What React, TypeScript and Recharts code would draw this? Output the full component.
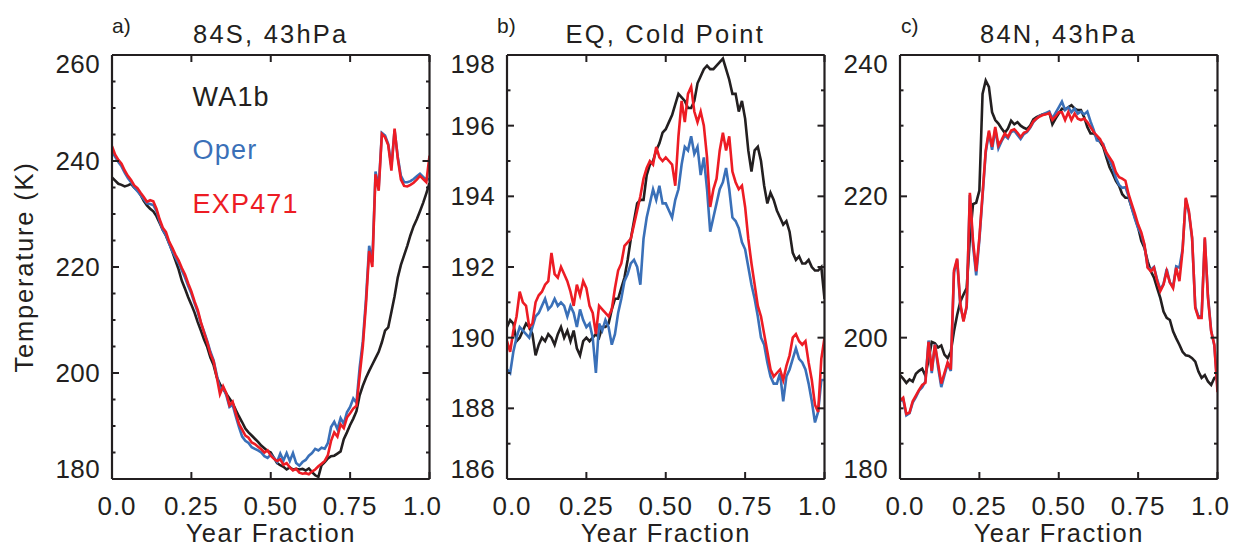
import { Legend, Line, LineChart, XAxis, YAxis } from 'recharts';

const INK = '#231f20';
const FONT = '"Liberation Sans", Arial, Helvetica, sans-serif';
const WA1B_COLOR = '#231f20';
const OPER_COLOR = '#3a70b8';
const EXP471_COLOR = '#ed1c24';

const yearFraction = [
  0, 0.01, 0.02, 0.03, 0.04, 0.05, 0.06, 0.07, 0.08, 0.09, 0.1, 0.11, 0.12, 0.13, 0.14, 0.15, 0.16, 0.17, 0.18, 0.19,
  0.2, 0.21, 0.22, 0.23, 0.24, 0.25, 0.26, 0.27, 0.28, 0.29, 0.3, 0.31, 0.32, 0.33, 0.34, 0.35, 0.36, 0.37, 0.38, 0.39,
  0.4, 0.41, 0.42, 0.43, 0.44, 0.45, 0.46, 0.47, 0.48, 0.49, 0.5, 0.51, 0.52, 0.53, 0.54, 0.55, 0.56, 0.57, 0.58, 0.59,
  0.6, 0.61, 0.62, 0.63, 0.64, 0.65, 0.66, 0.67, 0.68, 0.69, 0.7, 0.71, 0.72, 0.73, 0.74, 0.75, 0.76, 0.77, 0.78, 0.79,
  0.8, 0.81, 0.82, 0.83, 0.84, 0.85, 0.86, 0.87, 0.88, 0.89, 0.9, 0.91, 0.92, 0.93, 0.94, 0.95, 0.96, 0.97, 0.98, 0.99,
  1,
];

const xTicks = [0, 0.25, 0.5, 0.75, 1];
const xTickLabels = ['0.0', '0.25', '0.50', '0.75', '1.0'];
const legendOrder = ['WA1b', 'Oper', 'EXP471'];

// a) 84S, 43hPa
const southTicks = [180, 185, 190, 195, 200, 205, 210, 215, 220, 225, 230, 235, 240, 245, 250, 255, 260];
const southMajor = [180, 200, 220, 240, 260];
const southWA1b = [
  236.9, 236.3, 235.7, 235.5, 235.2, 235.4, 235.7, 235.0, 234.5, 233.6, 232.5, 231.6, 231.0, 230.5, 229.6, 228.3, 227.0, 225.9, 224.5, 222.9,
  221.2, 219.5, 217.4, 215.9, 214.3, 212.9, 211.4, 209.6, 208.0, 206.3, 204.9, 202.9, 201.5, 199.2, 197.9, 197.0, 196.1, 195.2, 194.3, 193.0,
  191.8, 190.7, 189.5, 188.8, 188.2, 187.6, 187.0, 186.3, 185.8, 185.3, 185.0, 184.0, 183.0, 182.6, 182.3, 181.8, 182.2, 181.8, 181.9, 181.8,
  181.9, 181.6, 182.0, 181.3, 180.7, 180.4, 182.6, 183.2, 183.9, 184.3, 184.4, 184.8, 185.2, 187.5, 188.8, 190.2, 191.4, 192.8, 195.8, 197.6,
  199.1, 200.4, 201.6, 202.8, 204.0, 205.8, 208.0, 208.6, 211.5, 214.5, 218.0, 220.4, 222.2, 224.0, 226.0, 227.7, 229.0, 230.5, 232.1, 233.9,
  235.8,
];
const southOper = [
  241.8, 240.8, 239.8, 239.0, 237.8, 236.8, 236.0, 235.0, 234.3, 233.6, 232.8, 232.0, 231.9, 231.7, 230.6, 228.6, 227.0, 226.0, 224.4, 223.0,
  221.8, 220.7, 219.4, 218.0, 216.4, 215.0, 213.2, 211.5, 209.4, 207.8, 206.0, 204.0, 202.4, 199.6, 197.0, 197.3, 195.8, 193.6, 194.0, 191.8,
  189.8, 188.0, 187.2, 186.8, 186.0, 185.7, 185.4, 185.0, 184.3, 184.0, 184.6, 184.0, 183.2, 184.8, 183.5, 184.9, 183.4, 184.9, 183.0, 182.5,
  183.2, 183.6, 184.4, 184.9, 185.7, 185.4, 185.9, 185.7, 186.8, 189.8, 190.8, 189.4, 191.5, 190.4, 192.6, 193.6, 195.2, 194.4, 201.0, 206.0,
  214.0, 224.0, 221.0, 238.0, 235.0, 245.3, 244.8, 243.2, 239.0, 245.8, 240.8, 237.2, 236.0, 236.0, 236.2, 236.6, 237.1, 237.6, 237.0, 236.5,
  236.6,
];
const southExp471 = [
  242.8, 241.2, 240.2, 239.5, 238.2, 237.2, 236.4, 235.4, 234.9, 234.0, 233.2, 232.3, 232.6, 232.4, 231.0, 229.0, 227.4, 226.6, 224.8, 223.6,
  222.3, 221.2, 219.8, 218.6, 216.9, 215.4, 213.5, 211.9, 209.6, 207.6, 205.8, 203.6, 202.2, 199.2, 196.0, 197.5, 196.2, 193.9, 194.6, 192.4,
  190.4, 189.3, 188.2, 187.8, 186.9, 186.6, 186.1, 185.6, 185.0, 185.4, 184.4, 183.8, 183.4, 183.7, 182.7, 183.0, 182.2, 181.6, 181.9, 181.2,
  181.0, 181.1, 180.9, 181.4, 181.8, 182.4, 182.9, 183.4, 184.5, 187.2, 188.8, 188.0, 190.3, 189.6, 191.6, 192.4, 193.3, 193.8, 199.5, 205.0,
  213.0, 223.0, 220.0, 237.5, 234.4, 245.1, 244.5, 243.0, 238.2, 246.1, 240.5, 236.5, 235.3, 235.2, 235.5, 235.9, 236.5, 237.2, 236.6, 236.0,
  241.0,
];

// b) EQ, Cold Point
const eqTicks = [186, 187, 188, 189, 190, 191, 192, 193, 194, 195, 196, 197, 198];
const eqMajor = [186, 188, 190, 192, 194, 196, 198];
const eqWA1b = [
  190.3, 190.5, 190.4, 189.9, 190.0, 190.2, 190.4, 190.3, 190.1, 189.5, 189.8, 190.0, 189.9, 190.1, 190.0, 189.8, 190.1, 190.3, 190.0, 190.2,
  189.9, 190.2, 189.7, 189.5, 189.9, 190.0, 189.9, 190.0, 190.1, 190.0, 190.3, 190.3, 190.4, 190.8, 191.1, 191.1, 191.4, 191.7, 192.2, 192.8,
  193.3, 193.8, 193.9, 193.9, 194.6, 194.9, 195.0, 195.3, 195.5, 195.8, 195.9, 196.1, 196.3, 196.6, 196.9, 196.8, 196.7, 196.5, 196.5, 196.7,
  197.2, 197.4, 197.6, 197.7, 197.6, 197.6, 197.7, 197.8, 197.9, 197.6, 197.3, 196.9, 196.9, 196.4, 196.7, 196.2, 195.3, 194.7, 195.3, 195.4,
  195.0, 194.3, 193.8, 194.1, 193.9, 193.6, 193.4, 193.2, 193.3, 193.0, 192.4, 192.2, 192.3, 192.1, 192.1, 192.2, 192.0, 191.9, 191.9, 192.0,
  191.1,
];
const eqOper = [
  189.1, 189.0, 189.6, 190.0, 190.3, 190.2, 190.1, 190.0, 190.3, 190.6, 190.7, 190.9, 191.1, 190.8, 190.9, 191.1, 190.9, 191.0, 190.9, 190.6,
  190.9, 190.7, 190.3, 190.8, 190.5, 190.3, 190.4, 190.0, 189.0, 190.4, 190.2, 190.5, 190.3, 189.8, 190.1, 190.7, 191.1, 191.6, 191.8, 192.1,
  192.2, 192.0, 191.5, 192.8, 193.4, 193.8, 194.2, 193.9, 194.3, 193.8, 193.8, 193.6, 193.4, 193.9, 194.2, 194.9, 195.4, 195.3, 195.7, 195.2,
  195.4, 194.6, 195.1, 194.2, 193.0, 193.4, 193.8, 194.2, 194.4, 194.8, 194.2, 193.4, 193.3, 193.1, 192.7, 192.5, 192.0, 191.5, 191.1, 190.6,
  190.0, 189.8, 189.3, 188.9, 188.7, 188.7, 189.0, 188.2, 188.9, 189.1, 189.4, 189.7, 189.4, 189.3, 189.1, 188.7, 188.2, 187.6, 187.9, 188.8,
  188.8,
];
const eqExp471 = [
  189.9, 189.6, 190.2, 190.6, 191.3, 191.0, 190.9, 190.3, 190.4, 191.0, 191.2, 191.3, 191.5, 191.6, 192.4, 191.8, 191.7, 192.0, 191.8, 191.6,
  191.3, 190.9, 191.5, 191.2, 191.6, 191.4, 190.9, 190.7, 190.1, 190.9, 190.8, 190.7, 190.6, 190.8, 191.4, 191.9, 192.1, 192.6, 192.7, 192.8,
  193.2, 193.6, 194.0, 194.5, 194.8, 195.0, 194.9, 195.4, 195.1, 195.0, 195.1, 195.0, 194.9, 194.3, 195.7, 196.7, 196.1, 196.9, 197.1, 196.4,
  196.1, 196.4, 196.0, 195.1, 193.7, 194.2, 194.5, 195.3, 195.8, 195.3, 195.7, 194.7, 194.4, 194.2, 194.3, 193.7, 192.8, 192.1, 191.5, 190.9,
  190.6, 190.1, 189.6, 189.1, 188.9, 189.0, 189.1, 188.8, 189.2, 189.5, 190.0, 190.1, 189.9, 189.8, 189.9, 189.3, 188.8, 188.1, 187.9, 189.4,
  190.0,
];

// c) 84N, 43hPa
const northTicks = [180, 185, 190, 195, 200, 205, 210, 215, 220, 225, 230, 235, 240];
const northMajor = [180, 200, 220, 240];
const northWA1b = [
  194.7, 194.2, 193.6, 194.1, 193.8, 194.9, 195.3, 195.6, 194.6, 196.9, 199.4, 199.2, 198.6, 198.9, 197.6, 197.1, 198.0, 200.9, 203.2, 205.1,
  206.1, 207.0, 214.0, 218.9, 219.1, 220.8, 234.5, 236.4, 235.5, 231.9, 230.8, 230.3, 229.6, 229.0, 229.6, 230.7, 230.2, 230.5, 230.0, 229.7,
  229.5, 230.0, 230.9, 231.2, 231.4, 231.6, 231.7, 231.9, 230.2, 231.0, 231.7, 232.4, 232.3, 232.6, 232.9, 232.4, 232.2, 232.2, 231.2, 229.8,
  228.9, 228.9, 228.4, 227.7, 227.0, 225.5, 224.1, 223.2, 222.2, 221.5, 220.3, 219.8, 219.8, 218.4, 217.0, 215.6, 213.7, 212.7, 210.8, 209.4,
  208.5, 207.0, 205.6, 203.7, 202.8, 202.5, 200.9, 199.9, 199.0, 198.0, 197.5, 197.4, 197.1, 196.6, 195.2, 194.3, 194.7, 193.8, 193.3, 194.3,
  194.5,
];
const northOper = [
  191.0, 191.3, 189.0, 189.3, 190.8, 191.6, 192.5, 193.0, 193.8, 199.6, 195.0, 199.1, 195.8, 193.0, 194.7, 196.3, 195.3, 209.2, 211.0, 204.5,
  202.5, 204.3, 220.2, 213.0, 208.8, 213.8, 220.0, 226.2, 229.0, 226.6, 229.5, 226.8, 227.8, 228.6, 228.2, 229.1, 229.3, 228.7, 228.1, 228.8,
  229.1, 229.7, 230.5, 231.0, 231.4, 231.6, 231.8, 232.0, 231.0, 231.8, 232.6, 233.4, 232.2, 232.6, 231.9, 232.4, 231.7, 232.0, 231.6, 232.0,
  230.6, 229.4, 227.9, 227.8, 227.4, 226.0, 225.1, 224.1, 222.6, 221.6, 221.2, 221.3, 220.0, 218.3, 216.8, 215.5, 214.6, 213.0, 210.0, 209.6,
  210.0, 208.2, 206.8, 207.6, 209.7, 207.8, 207.2, 210.1, 209.9, 212.5, 219.6, 217.6, 214.0, 204.4, 203.0, 203.2, 214.0, 205.9, 201.0, 198.9,
  193.0,
];
const northExp471 = [
  191.1, 191.5, 189.2, 189.4, 191.0, 191.8, 192.6, 193.3, 193.6, 199.4, 195.3, 199.0, 196.3, 193.5, 195.0, 196.5, 195.5, 209.5, 211.2, 204.8,
  202.3, 204.5, 220.5, 213.7, 209.4, 214.2, 220.3, 226.5, 229.3, 227.0, 229.8, 227.2, 228.0, 228.9, 228.4, 229.3, 229.5, 229.0, 228.4, 229.0,
  229.2, 229.8, 230.6, 231.0, 231.3, 231.5, 231.6, 231.8, 230.8, 231.3, 231.9, 231.9, 230.8, 231.9, 230.8, 231.7, 231.0, 230.8, 231.0, 230.5,
  229.8, 229.1, 228.6, 228.1, 227.2, 226.2, 225.5, 224.8, 223.4, 222.7, 222.5, 222.2, 220.3, 218.9, 217.5, 216.0, 214.9, 213.2, 209.9, 209.4,
  209.9, 208.0, 206.6, 207.5, 209.4, 207.8, 207.0, 209.9, 208.0, 212.3, 219.8, 217.9, 214.2, 204.2, 202.8, 202.8, 214.2, 205.6, 200.9, 199.0,
  192.3,
];

const PLOT_WIDTH = 317.5;
const PLOT_HEIGHT = 424;
const PLOT_TOP = 55;
const X_AXIS_HEIGHT = 69;
const RIGHT_PAD = 16;
const MAJOR_TICK = 7;
const MINOR_TICK = 3.5;
const axisLineStyle = { stroke: INK, strokeWidth: 2.2 };

type PanelProps = {
  letter: string;
  letterLeft: number;
  title: string;
  plotLeft: number;
  axisWidth: number;
  yDomain: [number, number];
  yTicks: number[];
  yMajor: number[];
  wa: number[];
  oper: number[];
  exp: number[];
  yLabel?: string;
  showLegend?: boolean;
};

function renderLegend({ payload }: any) {
  const entries = [...(payload ?? [])].sort(
    (a: any, b: any) => legendOrder.indexOf(a.value) - legendOrder.indexOf(b.value),
  );
  return (
    <div style={{ fontFamily: FONT, fontSize: 27, lineHeight: '53.5px', letterSpacing: '1.2px', whiteSpace: 'nowrap' }}>
      {entries.map((entry: any) => (
        <div key={entry.value} style={{ color: entry.color }}>
          {entry.value}
        </div>
      ))}
    </div>
  );
}

function Panel({
  letter,
  letterLeft,
  title,
  plotLeft,
  axisWidth,
  yDomain,
  yTicks,
  yMajor,
  wa,
  oper,
  exp,
  yLabel,
  showLegend,
}: PanelProps) {
  const chartLeft = plotLeft - axisWidth;
  const chartWidth = axisWidth + PLOT_WIDTH + 1 + RIGHT_PAD;
  const chartHeight = PLOT_TOP + PLOT_HEIGHT + X_AXIS_HEIGHT;
  const data = yearFraction.map((f, i) => ({ f, wa: wa[i], oper: oper[i], exp: exp[i] }));

  const isMajor = (v: number) => yMajor.includes(v);
  // end labels sit inside the frame, like the original IDL plot
  const labelShift = (v: number) => (v === yDomain[1] ? 18 : v === yDomain[0] ? -1 : 9);

  const leftTick = ({ x, y, payload }: any) => (
    <g>
      <line x1={x} x2={x + (isMajor(payload.value) ? MAJOR_TICK : MINOR_TICK)} y1={y} y2={y} stroke={INK} strokeWidth={2} />
      {isMajor(payload.value) && (
        <text
          x={x - 12}
          y={y + labelShift(payload.value)}
          textAnchor="end"
          fontSize={26}
          fill={INK}
          style={{ letterSpacing: '0.4px' }}
        >
          {payload.value}
        </text>
      )}
    </g>
  );

  const rightTick = ({ x, y, payload }: any) => (
    <line x1={x} x2={x - (isMajor(payload.value) ? MAJOR_TICK : MINOR_TICK)} y1={y} y2={y} stroke={INK} strokeWidth={2} />
  );

  const bottomTick = ({ x, y, payload }: any) => {
    const i = xTicks.indexOf(payload.value);
    const shift = i === 0 ? 5 : i === xTicks.length - 1 ? -7 : 0;
    return (
      <g>
        <line x1={x} x2={x} y1={y} y2={y - MAJOR_TICK} stroke={INK} strokeWidth={2} />
        <text x={x + shift} y={y + 36} textAnchor="middle" fontSize={26} fill={INK} style={{ letterSpacing: '1px' }}>
          {xTickLabels[i]}
        </text>
      </g>
    );
  };

  const topTick = ({ x, y }: any) => <line x1={x} x2={x} y1={y} y2={y + MAJOR_TICK} stroke={INK} strokeWidth={2} />;

  return (
    <div style={{ position: 'absolute', left: chartLeft, top: 0, width: chartWidth, height: chartHeight }}>
      <div
        style={{
          position: 'absolute',
          left: letterLeft - chartLeft,
          top: 15,
          fontSize: 21,
          lineHeight: '21px',
          color: INK,
        }}
      >
        {letter}
      </div>
      <div
        style={{
          position: 'absolute',
          left: axisWidth,
          top: 21.5,
          width: PLOT_WIDTH,
          textAlign: 'center',
          fontSize: 25.5,
          lineHeight: '25.5px',
          letterSpacing: '2.2px',
          color: INK,
          whiteSpace: 'nowrap',
        }}
      >
        {title}
      </div>
      <LineChart
        width={chartWidth}
        height={chartHeight}
        data={data}
        margin={{ top: PLOT_TOP - 1, right: RIGHT_PAD, bottom: 0, left: 0 }}
      >
        <XAxis
          xAxisId="x"
          dataKey="f"
          type="number"
          domain={[0, 1]}
          allowDataOverflow
          ticks={xTicks}
          interval={0}
          height={X_AXIS_HEIGHT}
          tickSize={0}
          tickMargin={0}
          tickLine={false}
          axisLine={axisLineStyle}
          tick={bottomTick}
          label={{
            value: 'Year Fraction',
            position: 'insideBottom',
            offset: 6,
            fontSize: 25.5,
            fill: INK,
            style: { letterSpacing: '1.5px' },
          }}
        />
        <XAxis
          xAxisId="top"
          orientation="top"
          dataKey="f"
          type="number"
          domain={[0, 1]}
          allowDataOverflow
          ticks={xTicks}
          interval={0}
          height={1}
          tickSize={0}
          tickMargin={0}
          tickLine={false}
          axisLine={axisLineStyle}
          tick={topTick}
        />
        <YAxis
          yAxisId="y"
          type="number"
          domain={yDomain}
          allowDataOverflow
          ticks={yTicks}
          interval={0}
          width={axisWidth}
          tickSize={0}
          tickMargin={0}
          tickLine={false}
          axisLine={axisLineStyle}
          tick={leftTick}
          label={
            yLabel
              ? {
                  value: yLabel,
                  angle: -90,
                  position: 'insideLeft',
                  offset: 22,
                  fontSize: 25.5,
                  fill: INK,
                  style: { textAnchor: 'middle', letterSpacing: '1.8px' },
                }
              : undefined
          }
        />
        <YAxis
          yAxisId="right"
          orientation="right"
          type="number"
          domain={yDomain}
          allowDataOverflow
          ticks={yTicks}
          interval={0}
          width={1}
          tickSize={0}
          tickMargin={0}
          tickLine={false}
          axisLine={axisLineStyle}
          tick={rightTick}
        />
        {showLegend && (
          <Legend
            layout="vertical"
            align="center"
            verticalAlign="middle"
            wrapperStyle={{ top: 70.5, left: 192.5 - chartLeft, width: 'auto' }}
            content={renderLegend}
          />
        )}
        <Line
          xAxisId="x"
          yAxisId="y"
          type="linear"
          dataKey="wa"
          name="WA1b"
          stroke={WA1B_COLOR}
          strokeWidth={2.6}
          dot={false}
          activeDot={false}
          isAnimationActive={false}
        />
        <Line
          xAxisId="x"
          yAxisId="y"
          type="linear"
          dataKey="oper"
          name="Oper"
          stroke={OPER_COLOR}
          strokeWidth={2.6}
          dot={false}
          activeDot={false}
          isAnimationActive={false}
        />
        <Line
          xAxisId="x"
          yAxisId="y"
          type="linear"
          dataKey="exp"
          name="EXP471"
          stroke={EXP471_COLOR}
          strokeWidth={2.6}
          dot={false}
          activeDot={false}
          isAnimationActive={false}
        />
      </LineChart>
    </div>
  );
}

export default function App() {
  return (
    <div
      style={{
        position: 'absolute',
        left: 0,
        top: 0,
        width: 1233,
        height: 548,
        overflow: 'hidden',
        background: '#ffffff',
        fontFamily: FONT,
      }}
    >
      <Panel
        letter="a)"
        letterLeft={112}
        title="84S, 43hPa"
        plotLeft={112}
        axisWidth={110}
        yDomain={[180, 260]}
        yTicks={southTicks}
        yMajor={southMajor}
        wa={southWA1b}
        oper={southOper}
        exp={southExp471}
        yLabel="Temperature (K)"
        showLegend
      />
      <Panel
        letter="b)"
        letterLeft={497}
        title="EQ, Cold Point"
        plotLeft={506.5}
        axisWidth={60}
        yDomain={[186, 198]}
        yTicks={eqTicks}
        yMajor={eqMajor}
        wa={eqWA1b}
        oper={eqOper}
        exp={eqExp471}
      />
      <Panel
        letter="c)"
        letterLeft={901}
        title="84N, 43hPa"
        plotLeft={899.7}
        axisWidth={60}
        yDomain={[180, 240]}
        yTicks={northTicks}
        yMajor={northMajor}
        wa={northWA1b}
        oper={northOper}
        exp={northExp471}
      />
    </div>
  );
}
